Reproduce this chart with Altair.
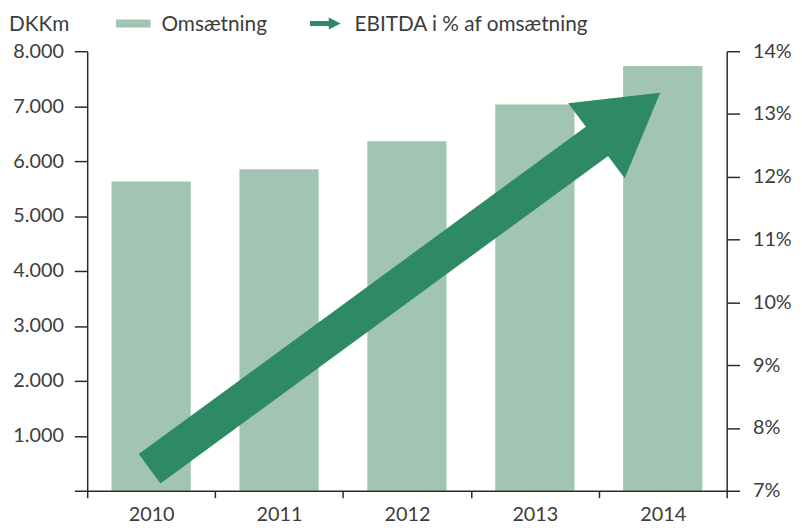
import altair as alt
import pandas as pd

# ---- data ----
years = ["2010", "2011", "2012", "2013", "2014"]
revenue = [5630, 5850, 6360, 7030, 7730]          # DKKm (left axis)

# EBITDA margin arrow (x in band-index units, 0..5; y in %)
arrow_x = [0.488, 4.05]
arrow_pct = [7.35, 12.66]
head_x = [4.48]
head_pct = [13.34]

left_ticks = [0, 1000, 2000, 3000, 4000, 5000, 6000, 7000, 8000]
right_ticks = [7, 8, 9, 10, 11, 12, 13, 14]

BAR = "#a1c5b2"
ARROW = "#2e8a64"
TXT = "#3c3c3c"
AX = "#2a2a2a"
FONT = "Lato"
FS = 20

W, H = 646, 444

bars_df = pd.DataFrame({"year": years, "value": revenue})
shaft_df = pd.DataFrame({"xi": arrow_x, "pct": arrow_pct})
head_df = pd.DataFrame({"xi": head_x, "pct": head_pct})

axis_common = dict(
    labelFont=FONT, labelFontSize=FS, labelColor=TXT,
    domainColor=AX, tickColor=AX, domainWidth=1.5, tickWidth=1.5,
    grid=False, zindex=1,
)

bars = alt.Chart(bars_df).mark_bar(color=BAR, width=80).encode(
    x=alt.X("year:N", title="", sort=years,
            scale=alt.Scale(paddingInner=0, paddingOuter=0),
            axis=alt.Axis(labelAngle=0, tickBand="extent", tickSize=7,
                          labelPadding=7, **axis_common)),
    y=alt.Y("value:Q", title="", scale=alt.Scale(domain=[0, 8000], nice=False),
            axis=alt.Axis(orient="left", values=left_ticks, tickSize=13,
                          labelPadding=11,
                          labelExpr="datum.value == 0 ? '' : replace(format(datum.value, ','), ',', '.')",
                          **axis_common)),
)

shaft = alt.Chart(shaft_df).mark_line(strokeWidth=37, strokeCap="butt", color=ARROW).encode(
    x=alt.X("xi:Q", scale=alt.Scale(domain=[0, 5], nice=False, zero=False), axis=None),
    y=alt.Y("pct:Q", title="", scale=alt.Scale(domain=[7, 14], nice=False, zero=False),
            axis=alt.Axis(orient="right", values=right_ticks, tickSize=13,
                          labelPadding=13, labelExpr="datum.value + '%'",
                          **axis_common)),
    order="xi:Q",
)

head_path = "M0,0 L-8.06,-4.75 L-8.06,4.75 Z"
head = alt.Chart(head_df).mark_point(
    shape=head_path, size=400, angle=323, filled=True, opacity=1,
    color=ARROW, strokeWidth=0,
).encode(
    x=alt.X("xi:Q", scale=alt.Scale(domain=[0, 5], nice=False, zero=False), axis=None),
    y=alt.Y("pct:Q", scale=alt.Scale(domain=[7, 14], nice=False, zero=False), axis=None),
)

one = alt.Data(values=[{}])

def txt(label, x, y):
    return alt.Chart(one).mark_text(
        text=label, font=FONT, fontSize=21, color=TXT, align="left", baseline="alphabetic"
    ).encode(x=alt.value(x), y=alt.value(y))

unit = txt("DKKm", -79, -20.5)
leg_rect = alt.Chart(one).mark_rect(color=BAR).encode(
    x=alt.value(29), x2=alt.value(64), y=alt.value(-32), y2=alt.value(-24))
leg_t1 = txt("Omsætning", 75, -20.5)
leg_shaft = alt.Chart(one).mark_rule(color=ARROW, strokeWidth=5).encode(
    x=alt.value(225), x2=alt.value(246), y=alt.value(-28))
leg_head = alt.Chart(one).mark_point(
    shape="M0,0 L-12,-6 L-12,6 Z", size=4, filled=True, opacity=1,
    color=ARROW, strokeWidth=0,
).encode(x=alt.value(256), y=alt.value(-28))
leg_t2 = txt("EBITDA i % af omsætning", 270, -20.5)

chart = alt.layer(
    bars, shaft, head, unit, leg_rect, leg_t1, leg_shaft, leg_head, leg_t2
).resolve_scale(
    x="independent", y="independent"
).properties(
    width=W, height=H,
    autosize=alt.AutoSizeParams(type="none"),
    padding={"left": 80, "top": 41, "right": 68, "bottom": 38},
).configure_view(strokeWidth=0)

chart.save("out.html", embed_options={"renderer": "svg", "actions": False})
